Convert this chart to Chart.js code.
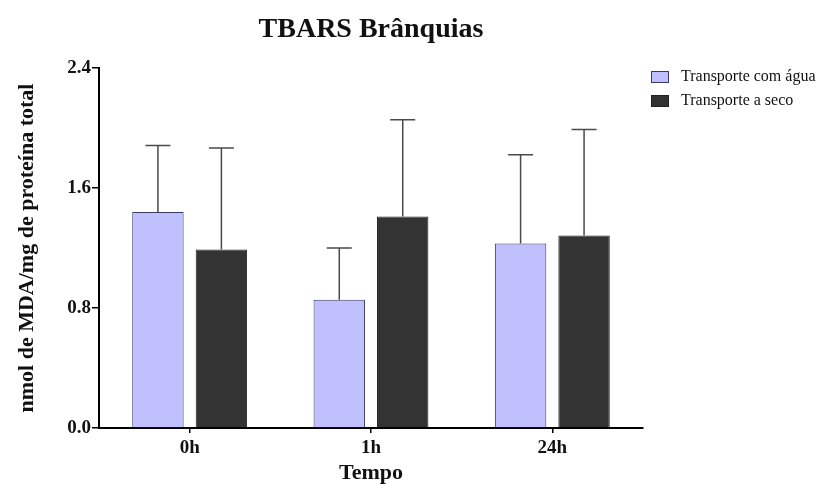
<!DOCTYPE html>
<html>
<head>
<meta charset="utf-8">
<script src="https://cdn.jsdelivr.net/npm/chart.js@4"></script>
<style>
  body { margin: 0; background: #fff; }
  #wrap { width: 832px; height: 484px; }
</style>
</head>
<body>
<div id="wrap"><canvas id="tbarsChart" width="832" height="484"></canvas></div>
<script>
// dados
const tempos = ['0h', '1h', '24h'];
const comAgua = [1.44, 0.855, 1.23];
const comAguaErr = [0.444, 0.345, 0.592];
const aSeco = [1.19, 1.41, 1.284];
const aSecoErr = [0.677, 0.645, 0.706];
const yTicks = [0, 0.8, 1.6, 2.4];

const serif = "'Liberation Serif', 'Times New Roman', serif";

// barras de erro (so a parte de cima, como no original)
const errorBars = {
    id: 'errorBars',
    afterDatasetsDraw(chart) {
        const c = chart.ctx;
        const y = chart.scales.y;
        chart.data.datasets.forEach((ds, i) => {
            const meta = chart.getDatasetMeta(i);
            meta.data.forEach((bar, j) => {
                const top = y.getPixelForValue(ds.data[j] + ds.errUp[j]);
                c.save();
                c.strokeStyle = '#4a4a4a';
                c.lineWidth = 1.5;
                c.beginPath();
                c.moveTo(bar.x, bar.y);
                c.lineTo(bar.x, top);
                c.moveTo(bar.x - 12.5, top);
                c.lineTo(bar.x + 12.5, top);
                c.stroke();
                c.restore();
            });
        });
    }
};

// titulo e legenda desenhados a mao
const extras = {
    id: 'extras',
    afterDraw(chart) {
        const c = chart.ctx;
        const area = chart.chartArea;
        c.save();
        c.fillStyle = '#111';
        c.font = 'bold 28px ' + serif;
        c.textAlign = 'center';
        c.textBaseline = 'alphabetic';
        c.fillText('TBARS Brânquias', (area.left + area.right) / 2, 37);

        c.font = '16px ' + serif;
        c.textAlign = 'left';
        c.textBaseline = 'middle';
        chart.data.datasets.forEach((ds, i) => {
            const yy = 77 + i * 24;
            c.fillStyle = ds.backgroundColor;
            c.fillRect(651, yy - 6, 18, 12);
            c.strokeStyle = ds.borderColor;
            c.lineWidth = 1;
            c.strokeRect(651.5, yy - 5.5, 17, 11);
            c.fillStyle = '#111';
            c.fillText(ds.label, 681, yy);
        });
        c.restore();
    }
};

const ctx = document.getElementById('tbarsChart');
const chr = new Chart(ctx, {
    type: 'bar',
    data: {
        labels: tempos,
        datasets: [
            {
                label: 'Transporte com água',
                data: comAgua,
                errUp: comAguaErr,
                backgroundColor: '#c0c0ff',
                borderColor: '#3a3a66',
                borderWidth: 1
            },
            {
                label: 'Transporte a seco',
                data: aSeco,
                errUp: aSecoErr,
                backgroundColor: '#333333',
                borderColor: '#222222',
                borderWidth: 1
            }
        ]
    },
    options: {
        responsive: false,
        animation: false,
        layout: { padding: { left: 0, top: 68, right: 189, bottom: 0 } },
        categoryPercentage: 0.7,
        barPercentage: 0.81,
        plugins: {
            legend: { display: false },
            title: { display: false },
            tooltip: { enabled: false }
        },
        scales: {
            x: {
                afterFit(scale) { scale.height = 56; },
                grid: {
                    offset: false,
                    drawOnChartArea: false,
                    drawTicks: true,
                    tickLength: 5,
                    color: '#000',
                    lineWidth: 1.5
                },
                border: { color: '#000', width: 2 },
                ticks: {
                    color: '#111',
                    padding: 4,
                    font: { family: serif, size: 19, weight: 'bold' }
                },
                title: {
                    display: true,
                    text: 'Tempo',
                    color: '#111',
                    padding: { top: 0, bottom: -3 },
                    font: { family: serif, size: 22, weight: 'bold' }
                }
            },
            y: {
                min: 0,
                max: 2.4,
                afterFit(scale) { scale.width = 99; },
                afterBuildTicks(scale) { scale.ticks = yTicks.map(v => ({ value: v })); },
                grid: {
                    drawOnChartArea: false,
                    drawTicks: true,
                    tickLength: 7,
                    color: '#000',
                    lineWidth: 1.5
                },
                border: { color: '#000', width: 2 },
                ticks: {
                    color: '#111',
                    padding: 1,
                    font: { family: serif, size: 19, weight: 'bold' },
                    callback: v => v.toFixed(1)
                },
                title: {
                    display: true,
                    text: 'nmol de MDA/mg de proteína total',
                    color: '#111',
                    padding: { top: 14, bottom: 0 },
                    font: { family: serif, size: 22, weight: 'bold' }
                }
            }
        }
    },
    plugins: [errorBars, extras]
});
</script>
</body>
</html>
